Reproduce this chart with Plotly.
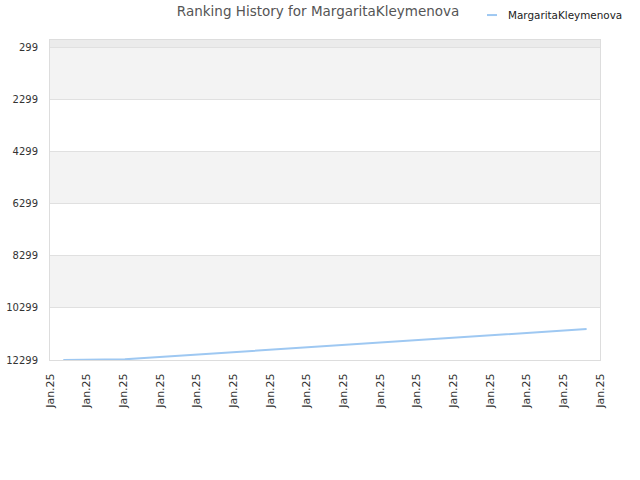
import numpy as np
import plotly.graph_objects as go

# ---- data ----
player = "MargaritaKleymenova"
point_index = list(range(35))
ranks = [12299, 12299, 12299, 12299, 12272, 12234, 12195, 12157, 12107, 12068,
         12030, 11992, 11953, 11915, 11876, 11838, 11799, 11761, 11722, 11684,
         11645, 11607, 11569, 11530, 11492, 11453, 11415, 11376, 11338, 11299,
         11261, 11222, 11184, 11145, 11107]
y_ticks = [299, 2299, 4299, 6299, 8299, 10299, 12299]
x_tick_label = "Jan.25"
n_x_ticks = 16

# ---- layout constants ----
x_range = [-0.864, 34.87]
y_range = [12299, 0]
x_tickvals = list(np.linspace(x_range[0], x_range[1], n_x_ticks))
font = "DejaVu Sans, Verdana, sans-serif"

fig = go.Figure()
fig.add_trace(go.Scatter(
    x=point_index, y=ranks, mode="lines", name=player,
    line=dict(color="#9ec8f2", width=2), showlegend=False,
    hoverinfo="x+y"))

shapes = []
# alternating bands
for lo, hi, col in [(0, 299, "#ebebeb"), (299, 2299, "#f3f3f3"),
                    (4299, 6299, "#f3f3f3"), (8299, 10299, "#f3f3f3")]:
    shapes.append(dict(type="rect", xref="paper", yref="y", x0=0, x1=1,
                       y0=lo, y1=hi, fillcolor=col, line_width=0, layer="below"))
# legend sample line
shapes.append(dict(type="line", xref="paper", yref="paper",
                   x0=0.7945, x1=0.8127, y0=1.078, y1=1.078,
                   line=dict(color="#9ec8f2", width=2)))

fig.update_layout(
    width=640, height=480,
    margin=dict(l=50, r=40, t=40, b=120),
    paper_bgcolor="white", plot_bgcolor="white",
    font=dict(family=font, size=11, color="#333333"),
    title=dict(text="Ranking History for " + player, x=0.497, xanchor="center",
               y=0.977, yanchor="middle",
               font=dict(family=font, size=13.5, color="#555555")),
    shapes=shapes,
    annotations=[dict(text=player, xref="paper", yref="paper", x=0.829, y=1.078,
                      xanchor="left", yanchor="middle", showarrow=False,
                      font=dict(family=font, size=10.4, color="#222222"))],
    showlegend=False,
)
fig.update_xaxes(range=x_range, tickvals=x_tickvals,
                 ticktext=[x_tick_label] * n_x_ticks, tickangle=-90,
                 showgrid=False, zeroline=False, showline=True, mirror=True,
                 linecolor="#dddddd", linewidth=1, ticks="", ticklen=0,
                 automargin=False, ticklabelstandoff=8,
                 tickfont=dict(size=11, color="#333333"))
fig.update_yaxes(range=y_range, tickvals=y_ticks,
                 ticktext=[str(v) for v in y_ticks], showgrid=True,
                 gridcolor="#e0e0e0", gridwidth=1, zeroline=False,
                 showline=True, mirror=True, linecolor="#dddddd", linewidth=1,
                 ticks="", automargin=False, ticklabelstandoff=9,
                 tickfont=dict(size=10, color="#333333"))

fig.write_html("out.html")
